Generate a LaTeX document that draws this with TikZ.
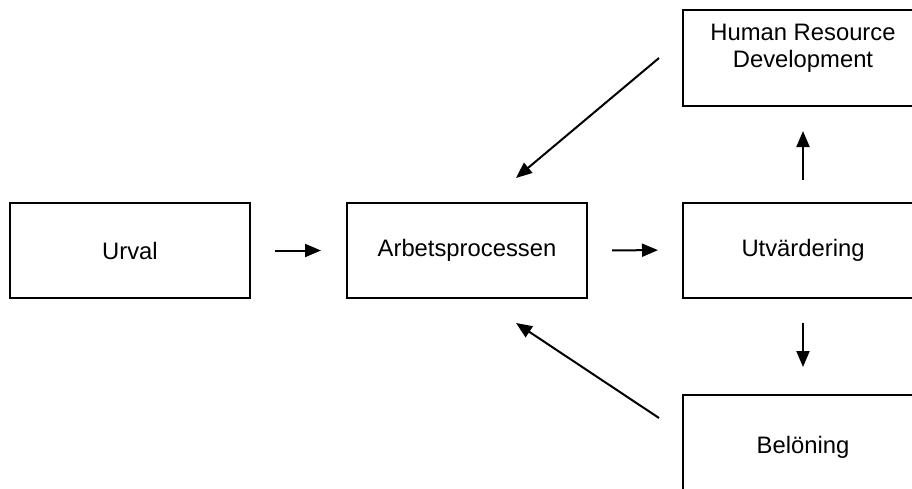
\documentclass[tikz,border=0pt]{standalone}
\usepackage{fontspec}
\setmainfont{Liberation Sans}
\usetikzlibrary{arrows.meta}
\begin{document}
\begin{tikzpicture}[x=1pt,y=-1pt,
  box/.style={draw=black,line width=2pt,minimum width=240pt,minimum height=95pt,inner sep=0pt},
  lbl/.style={font=\fontsize{23.8}{27}\selectfont,align=center,inner sep=0pt},
  conn/.style={line width=2pt,-{Triangle[length=16pt,width=13pt]}}]
\useasboundingbox (0,0) rectangle (912,488);
\node[box] (urval) at (130,250.5) {};
\node[lbl] at (urval.center) {Urval};
\node[box] (arb) at (467,250.5) {};
\node[lbl] at (arb.center) {Arbetsprocessen};
\node[box] (utv) at (803,250) {};
\node[lbl] at (utv.center) {Utvärdering};
\node[box,minimum height=96pt] (hrd) at (803,58) {};
\node[lbl] at (803,48) {Human Resource\\Development};
\node[box] (bel) at (803,442.5) {};
\node[lbl] at (803,447) {Belöning};
\coordinate (a1) at (659,58);
\coordinate (a2) at (516,178);
\coordinate (b1) at (659,418);
\coordinate (b2) at (516,323);
\draw[conn,shorten <=24pt,shorten >=25pt] (urval.east) -- (arb.west);
\draw[conn,shorten <=24pt,shorten >=24pt] (arb.east) -- (utv.west);
\draw[conn,shorten <=22pt,shorten >=24pt] (utv.north) -- (hrd.south);
\draw[conn,shorten <=24pt,shorten >=27pt] (utv.south) -- (bel.north);
\draw[conn] (a1) -- (a2);
\draw[conn] (b1) -- (b2);
\end{tikzpicture}
\end{document}
